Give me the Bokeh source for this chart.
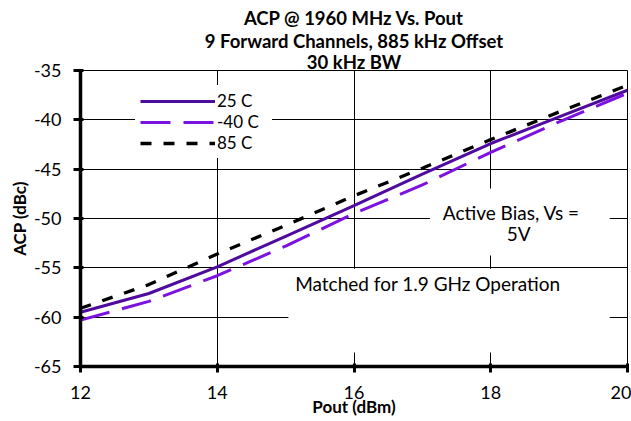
from bokeh.plotting import figure
from bokeh.models import (Range1d, Label, BoxAnnotation, Legend, LegendItem, FixedTicker,
                          Title, CustomJSTickFormatter)
from bokeh.embed import file_html
from bokeh.resources import INLINE

# ---- data ----
pout = [12, 13, 14, 15, 16, 17, 18, 19, 20]
acp_25c = [-59.5, -57.6, -54.9, -51.8, -48.7, -45.5, -42.4, -39.7, -37.0]
acp_m40c = [-60.3, -58.4, -55.8, -52.8, -49.5, -46.6, -43.3, -40.2, -37.3]
acp_85c = [-59.1, -56.7, -53.6, -50.7, -47.7, -44.9, -42.0, -39.2, -36.5]
series_names = ["25 C", "-40 C", "85 C"]
x_ticks = [12, 14, 16, 18, 20]
y_ticks = [-65, -60, -55, -50, -45, -40, -35]
title_lines = ["ACP @ 1960 MHz Vs. Pout", "9 Forward Channels, 885 kHz Offset", "30 kHz BW"]
note_bias = ["Active Bias, Vs =", "5V"]
note_match = "Matched for 1.9 GHz Operation"

FONT = "Lato"

p = figure(width=631, height=421, output_backend="svg", toolbar_location=None,
           x_range=Range1d(12, 20), y_range=Range1d(-65, -35),
           min_border_left=80, min_border_right=4, min_border_top=70, min_border_bottom=55)
p.background_fill_color = "white"
p.border_fill_color = "white"
p.outline_line_color = "black"
p.outline_line_width = 1

fmt = CustomJSTickFormatter(code="return String(tick);")
for ax, ticks in ((p.xaxis, x_ticks), (p.yaxis, y_ticks)):
    ax.ticker = FixedTicker(ticks=ticks)
    ax.formatter = fmt
    ax.axis_line_width = 3.5
    ax.axis_line_color = "black"
    ax.major_tick_line_width = 3
    ax.major_tick_line_color = "black"
    ax.minor_tick_line_color = None
    ax.major_label_text_font = FONT
    ax.major_label_text_font_size = "18px"
    ax.major_label_text_color = "black"
    ax.axis_label_text_font = FONT
    ax.axis_label_text_font_style = "bold"
    ax.axis_label_text_font_size = "17px"
    ax.axis_label_text_color = "black"
p.xaxis.major_tick_in = 3
p.xaxis.major_tick_out = 6
p.xaxis.major_label_standoff = 13
p.xaxis.axis_label = "Pout (dBm)"
p.xaxis.axis_label_standoff = -6
p.yaxis.major_tick_in = 3
p.yaxis.major_tick_out = 7
p.yaxis.major_label_standoff = 12
p.yaxis.axis_label = "ACP (dBc)"
p.yaxis.axis_label_standoff = 1

p.xgrid.ticker = FixedTicker(ticks=x_ticks)
p.ygrid.ticker = FixedTicker(ticks=y_ticks)
for g in (p.xgrid, p.ygrid):
    g.grid_line_color = "black"
    g.grid_line_width = 1

# white boxes behind the notes (they hide the grid there)
p.add_layout(BoxAnnotation(left=17.11, right=19.74, top=-46.96, bottom=-53.75,
                           fill_color="white", fill_alpha=1, line_alpha=0, level="underlay"))
p.add_layout(BoxAnnotation(left=15.04, right=19.74, top=-55.1, bottom=-63.58,
                           fill_color="white", fill_alpha=1, line_alpha=0, level="underlay"))

# series
r25 = p.line(pout, acp_25c, line_color="#4F0B9E", line_width=3)
rm40 = p.line(pout, acp_m40c, line_color="#7D12E0", line_width=3, line_dash="30 13")
r85 = p.line(pout, acp_85c, line_color="black", line_width=3.3, line_dash="11 12")

legend = Legend(items=[LegendItem(label=series_names[0], renderers=[r25]),
                       LegendItem(label=series_names[1], renderers=[rm40]),
                       LegendItem(label=series_names[2], renderers=[r85])],
                location=(55, 208), glyph_width=75, glyph_height=20, label_height=20,
                label_width=50, label_standoff=2, spacing=0, padding=5, margin=0,
                border_line_alpha=0, background_fill_color="white", background_fill_alpha=1,
                label_text_font=FONT, label_text_font_size="17px", label_text_color="black")
p.add_layout(legend, "center")

# notes
p.add_layout(Label(x=18.30, y=-49.36, text=note_bias[0], text_align="center", text_baseline="middle",
                   text_font=FONT, text_font_size="19px", text_color="black"))
p.add_layout(Label(x=18.41, y=-51.55, text=note_bias[1], text_align="center", text_baseline="middle",
                   text_font=FONT, text_font_size="19px", text_color="black"))
p.add_layout(Label(x=17.08, y=-56.56, text=note_match, text_align="center", text_baseline="middle",
                   text_font=FONT, text_font_size="19px", text_color="black"))

# title lines (innermost first; the last line sits close to the frame)
for txt, so in zip(reversed(title_lines), [-5, -1, 0]):
    p.add_layout(Title(text=txt, align="center", standoff=so, text_font=FONT,
                       text_font_style="bold", text_font_size="18.5px", text_color="black"), "above")

open("out.html", "w").write(file_html(p, INLINE))
